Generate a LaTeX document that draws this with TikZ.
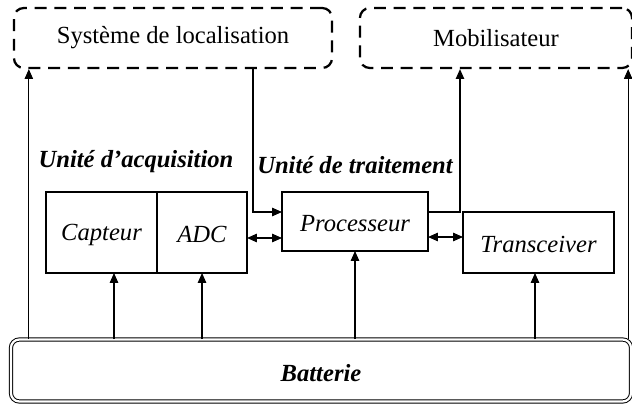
\documentclass[tikz,border=0pt]{standalone}
\usepackage{fontspec}
\setmainfont{Liberation Serif}[ItalicFont={Liberation Serif Italic},
        BoldFont={Liberation Serif Bold}, BoldItalicFont={Liberation Serif Bold Italic}]
\usepackage{tikz}
\usetikzlibrary{positioning,calc,arrows.meta}
\tikzstyle{extbox}=[rectangle, draw=black, dash pattern=on 8.5pt off 5.5pt, line width=1.6pt,
        rounded corners=7pt, text centered, font=\fontsize{17.5}{20}\selectfont]
\tikzstyle{unit}=[rectangle, draw=black, line width=1.5pt, outer sep=0pt, text centered,
        text height=15pt, font=\fontsize{17.5}{20}\selectfont\itshape]
\tikzstyle{power}=[rectangle, draw=black, double, double distance=1.6pt, line width=0.7pt,
        rounded corners=6pt, text height=16pt, font=\fontsize{17.5}{20}\selectfont\bfseries\itshape]
\tikzstyle{unitlabel}=[inner sep=0pt, font=\fontsize{17.5}{20}\selectfont\bfseries\itshape]
\tikzstyle{myarrow}=[-{Triangle[length=7pt,width=6pt]}, line width=0.8pt]
\tikzstyle{dblarrow}=[{Triangle[length=7pt,width=6pt]}-{Triangle[length=7pt,width=6pt]}, line width=0.8pt]

\begin{document}
\begin{tikzpicture}[x=0.025cm, y=-0.025cm]
	\useasboundingbox (0,0) rectangle (632,407);

	\node (localisation) [extbox, minimum width=7.95cm, minimum height=1.5cm] at (173,38)
        {Système de localisation};
	\node (mobilisateur) [extbox, minimum width=6.8cm, minimum height=1.5cm] at (496,38)
        {Mobilisateur};

	\node (capteur) [unit, minimum width=2.775cm, minimum height=2.025cm] at (101.5,232.5)
        {Capteur};
	\node (adc) [unit, minimum width=2.25cm, minimum height=2.025cm, right=0pt of capteur]
        {ADC};
	\node (processeur) [unit, minimum width=3.65cm, minimum height=1.475cm] at (355,221.5)
        {Processeur};
	\node (transceiver) [unit, minimum width=3.775cm, minimum height=1.525cm] at (538.5,242.5)
        {Transceiver};

	\node (batterie) [power, minimum width=15.5cm, minimum height=1.55cm] at (321,370.5)
        {Batterie};

	\node (acquisition) [unitlabel] at ($(capteur.north west)+(90,-30)$)
        {Unité d’acquisition};
	\node (traitement) [unitlabel] at ($(processeur.north)+(0,-27)$)
        {Unité de traitement};

	% points d'attache
	\coordinate (locout) at ($(localisation.south)+(80,0)$);
	\coordinate (procin) at ($(processeur.west)+(0,-9.5)$);
	\coordinate (procout) at ($(processeur.east)+(0,-9.5)$);
	\coordinate (mobin) at ($(mobilisateur.south)+(-36,0)$);
	\coordinate (adcbus) at ($(adc.east)+(0,5.5)$);
	\coordinate (procbus) at ($(processeur.east)+(0,15.5)$);
	\coordinate (locin) at ($(localisation.south west)+(16,0)$);
	\coordinate (capin) at ($(capteur.south)+(12.5,0)$);
	\coordinate (trxin) at ($(transceiver.south)+(-3.5,0)$);
	\coordinate (mobpwr) at ($(mobilisateur.south east)+(-5,0)$);

\draw[myarrow] (locout) |- (procin);
\draw[myarrow] (procout) -| (mobin);
\draw[dblarrow] (adcbus) -- (adcbus -| processeur.west);
\draw[dblarrow] (procbus) -- (procbus -| transceiver.west);

\draw[myarrow] (locin |- batterie.north) -- (locin);
\draw[myarrow] (capin |- batterie.north) -- (capin);
\draw[myarrow] (adc.south |- batterie.north) -- (adc.south);
\draw[myarrow] (processeur.south |- batterie.north) -- (processeur.south);
\draw[myarrow] (trxin |- batterie.north) -- (trxin);
\draw[myarrow] (mobpwr |- batterie.north) -- (mobpwr);

\end{tikzpicture}
\end{document}
